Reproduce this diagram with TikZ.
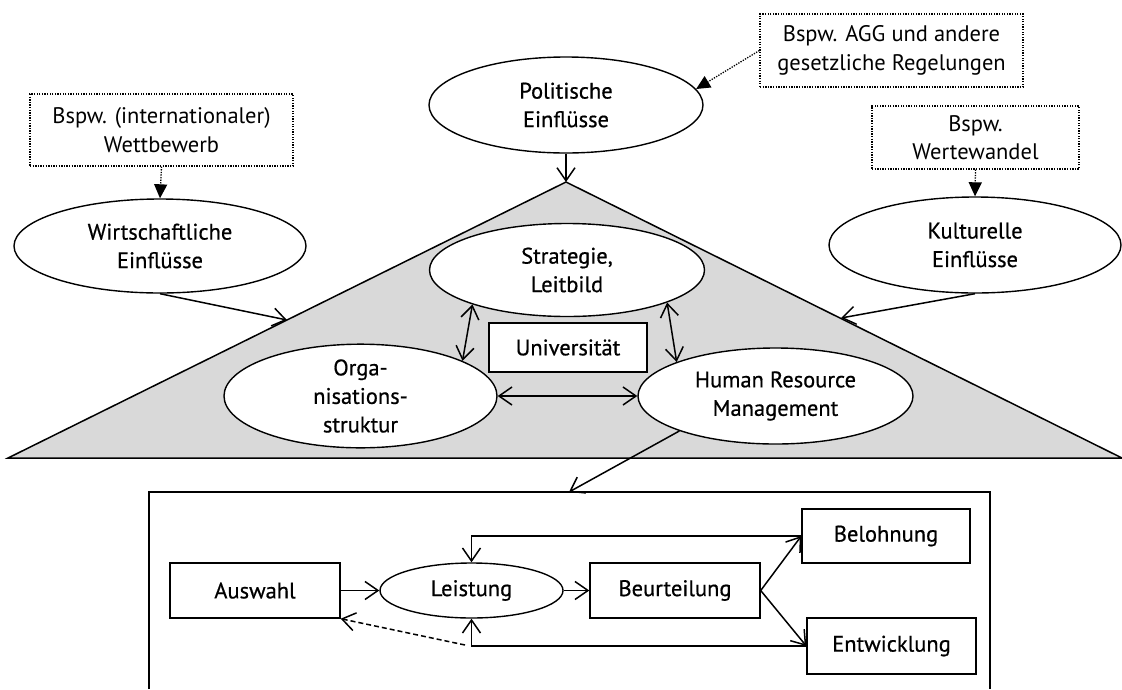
\documentclass[tikz,border=0pt]{standalone}
\usepackage{fontspec}
\setmainfont{PT Sans}
\newfontfamily\medfont{PT Sans}[FakeBold=0.6]
\usetikzlibrary{shapes.geometric,arrows.meta}
\definecolor{tri}{RGB}{217,217,217}
\tikzset{
  every node/.style={font=\medfont\fontsize{22.5}{28.5}\selectfont, align=center, inner sep=0pt},
  ell/.style={ellipse, draw, fill=white, line width=1.4pt},
  boxn/.style={rectangle, draw, fill=white, line width=1.4pt},
  exbox/.style={rectangle, draw, fill=white, line width=1.2pt, dash pattern=on 1.3pt off 1.3pt, font=\normalfont\fontsize{22.5}{28.5}\selectfont},
  con/.style={line width=1.5pt, -{Straight Barb[length=13pt,width=18pt,line width=1.5pt]}},
  dcon/.style={line width=1.5pt, {Straight Barb[length=13pt,width=18pt,line width=1.5pt]}-{Straight Barb[length=13pt,width=18pt,line width=1.5pt]}},
  excon/.style={line width=1.3pt, dash pattern=on 1.3pt off 1.3pt, -{Triangle[length=14pt,width=13pt]}},
  dashcon/.style={line width=1.5pt, dash pattern=on 5pt off 3pt, -{Straight Barb[length=13pt,width=18pt,line width=1.5pt]}}
}
\begin{document}
\begin{tikzpicture}[x=1pt,y=-1pt]
\useasboundingbox (0,0) rectangle (1122,689);
% triangle
\draw[fill=tri, line width=1.5pt, line join=miter] (8,458) -- (566,182) -- (1122,458) -- cycle;
\coordinate (apex) at (566,182);
\coordinate (tl) at (287,320);
\coordinate (tr) at (841,318);
% lower frame (open at the bottom)
\draw[line width=1.4pt] (149,689) -- (149,492) -- (990,492) -- (990,689);
\coordinate (hrmin) at (569,492);
% top-level influences
\node[ell, minimum width=274pt, minimum height=96pt] (pol) at (566,105) {Politische\\Einflüsse};
\node[ell, minimum width=292pt, minimum height=94pt] (wirt) at (160,246) {Wirtschaftliche\\Einflüsse};
\node[ell, minimum width=292pt, minimum height=96pt] (kult) at (975,245) {Kulturelle\\Einflüsse};
\node[exbox, minimum width=263pt, minimum height=72pt] (ex1) at (161.5,130) {Bspw. (internationaler)\\Wettbewerb};
\node[exbox, minimum width=263pt, minimum height=73pt] (ex2) at (891.5,50.5) {Bspw. AGG und andere\\gesetzliche Regelungen};
\node[exbox, minimum width=207pt, minimum height=63pt] (ex3) at (975.5,137.5) {Bspw.\\Wertewandel};
% inside the triangle
\node[ell, minimum width=275pt, minimum height=93pt] (strat) at (567,270) {Strategie,\\Leitbild};
\node[boxn, minimum width=158pt, minimum height=49pt] (uni) at (568,347.5) {Universität};
\node[ell, minimum width=273pt, minimum height=96pt] (org) at (360.5,396) {Orga-\\nisations-\\struktur};
\node[ell, minimum width=275pt, minimum height=96pt] (hrm) at (775.5,396) {Human Resource\\Management};
% lower process
\node[boxn, minimum width=170pt, minimum height=55pt] (ausw) at (255,590.5) {Auswahl};
\node[ell, minimum width=183pt, minimum height=55pt] (leist) at (471.5,590.5) {Leistung};
\node[boxn, minimum width=170pt, minimum height=55pt] (beurt) at (675,590.5) {Beurteilung};
\node[boxn, minimum width=168pt, minimum height=54pt] (belohn) at (886,536) {Belohnung};
\node[boxn, minimum width=169pt, minimum height=56pt] (entw) at (891.5,646) {Entwicklung};
\coordinate (dstart) at (465,645);
% connectors
\draw[excon] (ex1.south) -- (wirt.north);
\draw[excon] (ex2.west) -- (pol.7);
\draw[excon] (ex3.south) -- (kult.north);
\draw[con] (pol.south) -- (apex);
\draw[con] (wirt.south) -- (tl);
\draw[con] (kult.south) -- (tr);
\draw[dcon] (strat.200) -- (org.19);
\draw[dcon] (strat.-18) -- (hrm.161);
\draw[dcon] (org.east) -- (hrm.west);
\draw[con] (hrm.200) -- (hrmin);
\draw[con] (ausw.east) -- (leist.west);
\draw[con] (leist.east) -- (beurt.west);
\draw[con] (beurt.east) -- (belohn.west);
\draw[con] (beurt.east) -- (entw.west);
\draw[con] (belohn.west) -| (leist.north);
\draw[con] (entw.west) -| (leist.south);
\draw[dashcon] (dstart) -- (ausw.south east);
\end{tikzpicture}
\end{document}
